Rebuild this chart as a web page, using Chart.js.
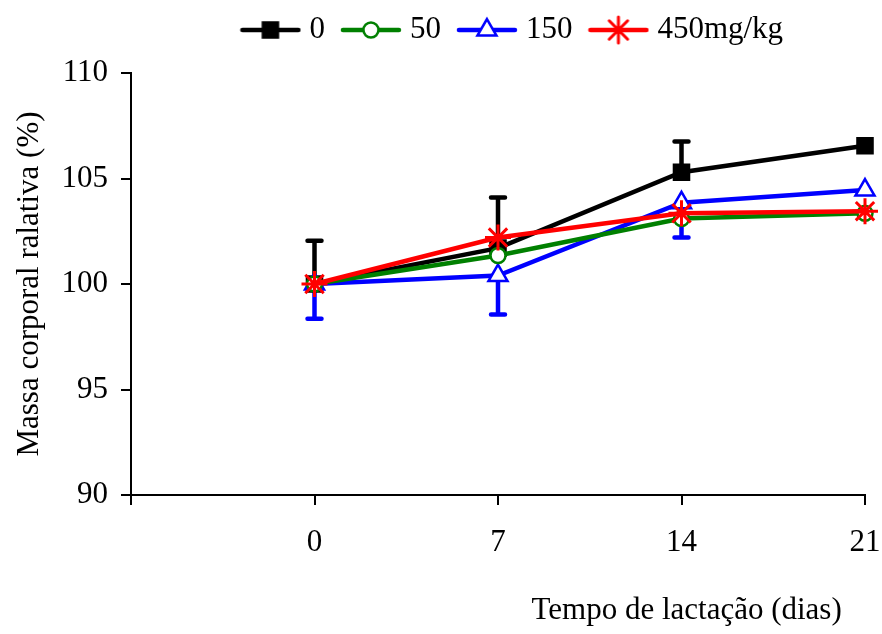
<!DOCTYPE html>
<html>
	<head>
		<meta charset="UTF-8">
		<style>
			body { margin: 0; background: #fff; }
		</style>
	</head>
	<script src="https://cdn.jsdelivr.net/npm/chart.js@4/dist/chart.umd.min.js"></script>
	<body>
		<div style="width:882px;height:634px"><canvas id="myChart"></canvas></div>
		<script>
			// dias de lactação
			const dias = [0, 7, 14, 21];
			const xTicks = [-7, 0, 7, 14, 21];
			const grupos = ['0', '50', '150', '450mg/kg'];

			// massa corporal relativa (%)
			const massa0 = [100, 101.7, 105.3, 106.55];
			const massa50 = [100, 101.35, 103.1, 103.35];
			const massa150 = [100, 100.4, 103.85, 104.45];
			const massa450 = [100, 102.2, 103.35, 103.45];

			// barras de erro (só a parte visível)
			const erroCima0 = [2.05, 2.4, 1.45, 0];
			const erroBaixo150 = [1.65, 1.85, 1.65, 0];

			const fonte = 'Liberation Serif, Times New Roman, serif';

			function pontos(vals) {
				return dias.map((d, i) => ({ x: d, y: vals[i] }));
			}

			// icone da legenda: linha + marcador
			function icone(cor, estilo, raio, preench, borda) {
				const c = document.createElement('canvas');
				c.width = 62; c.height = 30;
				const ctx = c.getContext('2d');
				ctx.strokeStyle = cor;
				ctx.lineWidth = 4.5;
				ctx.lineCap = 'round';
				ctx.beginPath();
				ctx.moveTo(3, 15); ctx.lineTo(59, 15);
				ctx.stroke();
				ctx.fillStyle = preench;
				ctx.lineWidth = borda;
				Chart.helpers.drawPoint(ctx, { pointStyle: estilo, radius: raio, rotation: 0, borderWidth: borda }, 31, 15);
				return c;
			}

			const barrasErro = {
				id: 'barrasErro',
				beforeDatasetsDraw(chart) {
					const ctx = chart.ctx;
					const x = chart.scales.x, y = chart.scales.y;
					chart.data.datasets.forEach(ds => {
						if (!ds.erros) return;
						ctx.save();
						ctx.strokeStyle = ds.borderColor;
						ctx.lineWidth = 4.5;
						ctx.lineCap = 'round';
						dias.forEach((d, i) => {
							const e = ds.erros[i];
							if (!e) return;
							const px = x.getPixelForValue(d);
							const p0 = y.getPixelForValue(ds.data[i].y);
							const p1 = y.getPixelForValue(ds.data[i].y + ds.sentido * e);
							ctx.beginPath();
							ctx.moveTo(px, p0); ctx.lineTo(px, p1);
							ctx.moveTo(px - 7, p1); ctx.lineTo(px + 7, p1);
							ctx.stroke();
						});
						ctx.restore();
					});
				}
			};

			// a legenda fica sobre a área do gráfico
			const moverLegenda = {
				id: 'moverLegenda',
				afterLayout(chart) {
					const lg = chart.legend;
					lg.left += 74; lg.right += 74;
					lg.top -= 17.5; lg.bottom -= 17.5;
				}
			};

			const icones = [
				icone('#000000', 'rect', 11, '#000000', 2),
				icone('#008000', 'circle', 7.5, '#ffffff', 2.5),
				icone('#0000ff', 'triangle', 11, '#ffffff', 2.5),
				icone('#ff0000', 'star', 13, '#ff0000', 3)
			];

			new Chart('myChart', {
				type: 'line',
				data: {
					datasets: [
						{ label: grupos[0], data: pontos(massa0), borderColor: '#000000', backgroundColor: '#000000',
						  pointStyle: 'rect', pointRadius: 11, pointBorderWidth: 2, order: 4,
						  erros: erroCima0, sentido: 1 },
						{ label: grupos[1], data: pontos(massa50), borderColor: '#008000', backgroundColor: '#ffffff',
						  pointStyle: 'circle', pointRadius: 7.5, pointBorderWidth: 2.5, order: 2 },
						{ label: grupos[2], data: pontos(massa150), borderColor: '#0000ff', backgroundColor: '#ffffff',
						  pointStyle: 'triangle', pointRadius: 11, pointBorderWidth: 2.5, order: 3,
						  erros: erroBaixo150, sentido: -1 },
						{ label: grupos[3], data: pontos(massa450), borderColor: '#ff0000', backgroundColor: '#ff0000',
						  pointStyle: 'star', pointRadius: 13, pointBorderWidth: 3, order: 1 }
					]
				},
				options: {
					responsive: true,
					maintainAspectRatio: false,
					animation: false,
					layout: { padding: { top: 9.5, right: 0, bottom: 0, left: 0 } },
					elements: { line: { borderWidth: 4.5, tension: 0 } },
					datasets: { line: { clip: false } },
					plugins: {
						tooltip: { enabled: false },
						legend: {
							position: 'top',
							labels: {
								usePointStyle: true,
								pointStyleWidth: 47,
								padding: 22.5,
								color: '#000',
								font: { family: fonte, size: 31 },
								generateLabels(chart) {
									return chart.data.datasets.map((ds, i) => ({
										text: ds.label,
										pointStyle: icones[i],
										fillStyle: ds.borderColor,
										strokeStyle: ds.borderColor,
										lineWidth: 0,
										fontColor: '#000',
										datasetIndex: i
									}));
								}
							}
						}
					},
					scales: {
						x: {
							type: 'linear',
							min: xTicks[0],
							max: xTicks[xTicks.length - 1],
							afterBuildTicks(scale) { scale.ticks = xTicks.map(v => ({ value: v })); },
							afterFit(scale) {
								scale.height = 139;
								scale.paddingLeft = 0;
								scale.paddingRight = 17;
							},
							ticks: {
								color: '#000',
								font: { family: fonte, size: 31 },
								padding: 19,
								maxRotation: 0,
								callback: v => (v < 0 ? '' : v)
							},
							grid: { drawOnChartArea: false, drawTicks: true, tickLength: 10, color: '#000', lineWidth: 2 },
							border: { color: '#000', width: 2 },
							title: {
								display: true,
								text: 'Tempo de lactação (dias)   ',
								align: 'end',
								color: '#000',
								font: { family: fonte, size: 31 },
								padding: { top: 0, bottom: 5 }
							}
						},
						y: {
							min: 90,
							max: 110,
							afterFit(scale) { scale.width = 131; },
							ticks: {
								stepSize: 5,
								color: '#000',
								font: { family: fonte, size: 31 },
								padding: 13
							},
							grid: { drawOnChartArea: false, drawTicks: true, tickLength: 10, color: '#000', lineWidth: 2 },
							border: { color: '#000', width: 2 },
							title: {
								display: true,
								text: 'Massa corporal ralativa (%)',
								color: '#000',
								font: { family: fonte, size: 31 },
								padding: { top: 11, bottom: 0 }
							}
						}
					}
				},
				plugins: [barrasErro, moverLegenda]
			});
		</script>
	</body>
</html>
